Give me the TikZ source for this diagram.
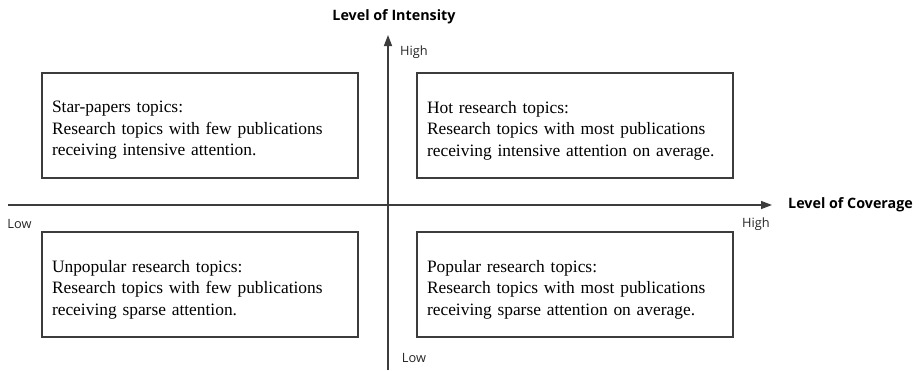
\documentclass[tikz,border=0pt]{standalone}
\usepackage{fontspec}
\setmainfont{Liberation Serif}
\setsansfont{Open Sans}
\usetikzlibrary{arrows.meta}
\definecolor{linegray}{RGB}{60,60,60}
\begin{document}
\begin{tikzpicture}[x=1pt,y=-1pt,
  quad/.style={draw=linegray,line width=1.4pt,minimum width=316pt,minimum height=105pt,inner sep=0pt},
  qtext/.style={text width=296pt,inner sep=0pt,align=left,font=\fontsize{17.4}{21.5}\selectfont},
  axis/.style={draw=linegray,line width=1.4pt,-{Triangle[length=11pt,width=8pt]}},
  axtitle/.style={font=\sffamily\bfseries\fontsize{14.3}{16}\selectfont,inner sep=0pt},
  tick/.style={font=\sffamily\fontsize{12.8}{14}\selectfont,inner sep=0pt,text=black!85}]
\useasboundingbox (0,0) rectangle (921,370);
\coordinate (vb) at (388,370);
\coordinate (vt) at (388,35);
\coordinate (hl) at (8,205);
\coordinate (hr) at (772,205);
\draw[axis] (vb) -- (vt);
\draw[axis] (hl) -- (hr);
\node[axtitle] (ti) at (394,17) {Level of Intensity};
\node[axtitle,anchor=west] (tc) at (788,205) {Level of Coverage};
\node[tick,anchor=west] (hi1) at (400,52) {High};
\node[tick] (hi2) at (756,224) {High};
\node[tick] (lo1) at (19.5,224) {Low};
\node[tick] (lo2) at (414,358) {Low};
\node[quad] (tl) at (200,125.5) {};
\node[quad] (tr) at (575,125.5) {};
\node[quad] (bl) at (200,284.5) {};
\node[quad] (br) at (575,284.5) {};
\node[qtext] (tlt) at ([yshift=-5pt]tl.center) {Star-papers topics:\\Research topics with few publications\\receiving intensive attention.};
\node[qtext] (trt) at ([yshift=-5pt]tr.center) {Hot research topics:\\Research topics with most publications\\receiving intensive attention on average.};
\node[qtext] (blt) at ([yshift=-5pt]bl.center) {Unpopular research topics:\\Research topics with few publications\\receiving sparse attention.};
\node[qtext] (brt) at ([yshift=-5pt]br.center) {Popular research topics:\\Research topics with most publications\\receiving sparse attention on average.};
\end{tikzpicture}
\end{document}
